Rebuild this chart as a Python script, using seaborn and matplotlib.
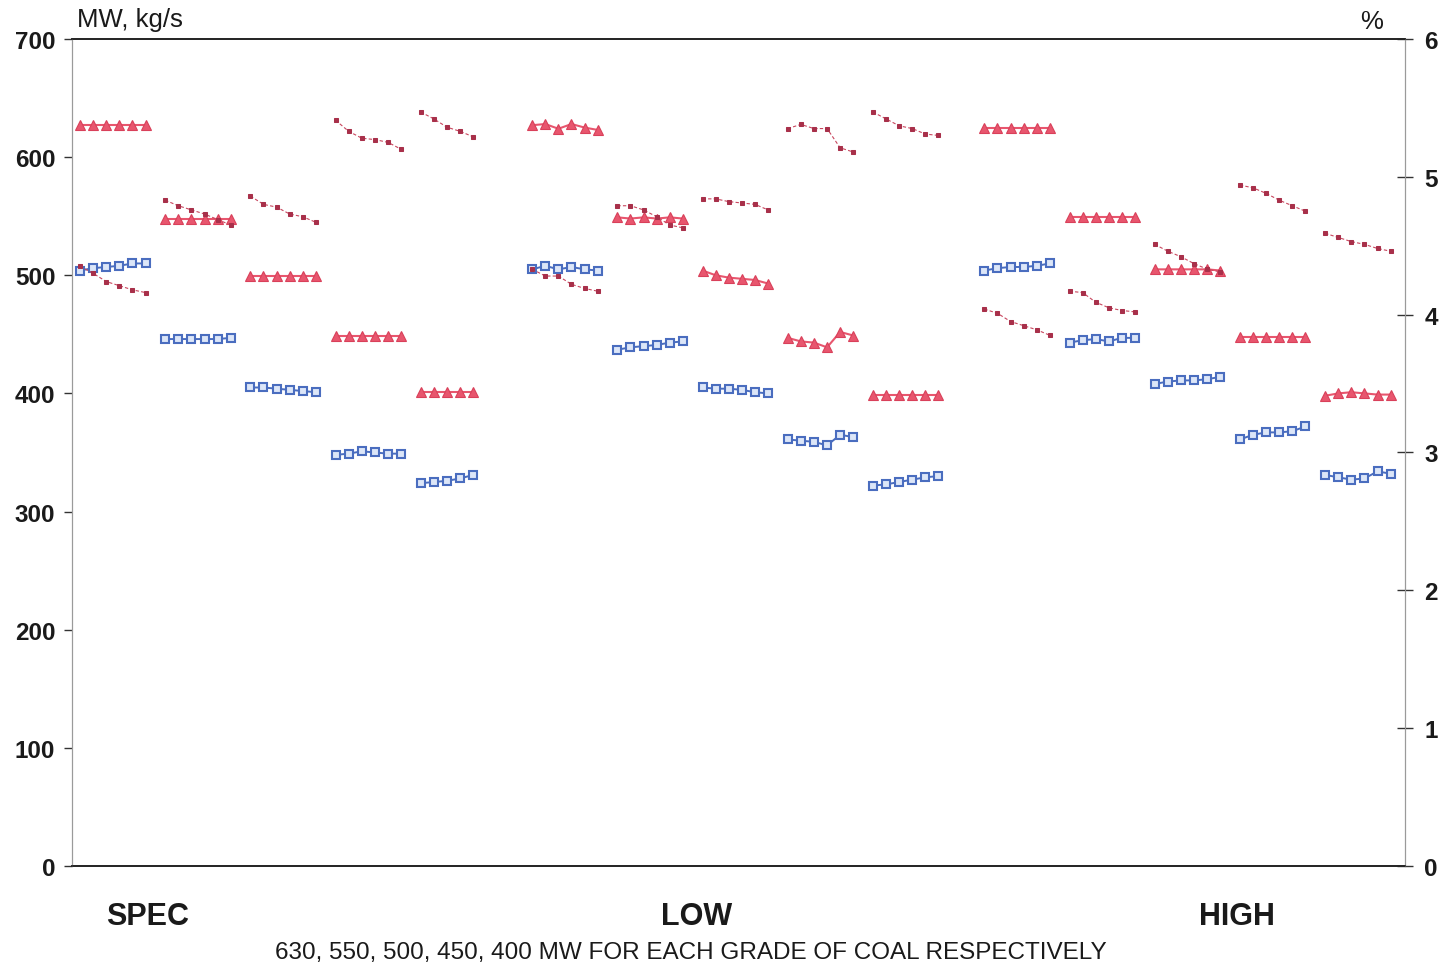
import numpy as np
import pandas as pd
import matplotlib
matplotlib.use("Agg")
import matplotlib.pyplot as plt
import seaborn as sns

# Coal grades and unit loads
grades = ["SPEC", "LOW", "HIGH"]
loads = [630, 550, 500, 450, 400]

# Gross output, MW (red triangles)
mw = [
    [627, 627, 627, 627, 627, 627],
    [548, 548, 548, 548, 548, 548],
    [499, 499, 499, 499, 499, 499],
    [449, 449, 449, 449, 449, 449],
    [401, 401, 401, 401, 401],
    [627, 628, 624, 628, 625, 623],
    [549, 548, 549, 548, 549, 548],
    [504, 500, 498, 497, 496, 493],
    [447, 444, 443, 439, 452, 449],
    [399, 399, 399, 399, 399, 399],
    [625, 625, 625, 625, 625, 625],
    [549, 549, 549, 549, 549, 549],
    [505, 505, 505, 505, 505, 504],
    [448, 448, 448, 448, 448, 448],
    [398, 400, 401, 400, 399, 399],
]

# Coal / steam flow, kg/s (blue squares)
kgs = [
    [504, 506, 507, 508, 510, 510],
    [446, 446, 446, 446, 446, 447],
    [405, 405, 404, 403, 402, 401],
    [348, 349, 351, 350, 349, 349],
    [324, 325, 326, 328, 331],
    [505, 508, 505, 507, 505, 504],
    [437, 439, 440, 441, 443, 444],
    [405, 404, 404, 403, 401, 400],
    [361, 360, 359, 356, 365, 363],
    [322, 323, 325, 327, 329, 330],
    [504, 506, 507, 507, 508, 510],
    [443, 445, 446, 444, 447, 447],
    [408, 410, 411, 411, 412, 414],
    [361, 365, 367, 367, 368, 372],
    [331, 329, 327, 328, 334, 332],
]

# Percentage on right axis (dashed line)
pct = [
    [4.35, 4.30, 4.24, 4.21, 4.18, 4.16],
    [4.83, 4.79, 4.76, 4.73, 4.69, 4.65],
    [4.86, 4.80, 4.78, 4.73, 4.71, 4.67],
    [5.41, 5.33, 5.28, 5.27, 5.25, 5.20],
    [5.47, 5.42, 5.36, 5.33, 5.29],
    [4.33, 4.28, 4.28, 4.22, 4.19, 4.17],
    [4.79, 4.79, 4.76, 4.71, 4.65, 4.63],
    [4.84, 4.84, 4.82, 4.81, 4.80, 4.76],
    [5.35, 5.38, 5.35, 5.35, 5.21, 5.18],
    [5.47, 5.42, 5.37, 5.35, 5.31, 5.30],
    [4.04, 4.01, 3.95, 3.92, 3.89, 3.85],
    [4.17, 4.16, 4.09, 4.05, 4.03, 4.02],
    [4.51, 4.46, 4.42, 4.37, 4.33, 4.31],
    [4.94, 4.92, 4.88, 4.83, 4.79, 4.75],
    [4.59, 4.56, 4.53, 4.51, 4.48, 4.46],
]

left_ticks = [0, 100, 200, 300, 400, 500, 600, 700]
right_ticks = [0, 1, 2, 3, 4, 5, 6]
caption = "630, 550, 500, 450, 400 MW FOR EACH GRADE OF COAL RESPECTIVELY"

# Horizontal layout: one step per reading, fixed pitch between load groups,
# extra gap between coal grades
GROUP_PITCH = 6.5
GRADE_GAP = 2.0

rows = []
for g in range(len(mw)):
    gi, li = divmod(g, len(loads))
    start = gi * (len(loads) * GROUP_PITCH + GRADE_GAP) + li * GROUP_PITCH
    for i in range(len(mw[g])):
        rows.append(dict(group=g, grade=grades[gi], load=loads[li],
                         x=start + i, mw=mw[g][i], kgs=kgs[g][i], pct=pct[g][i]))
df = pd.DataFrame(rows)

sns.set_style("white")
plt.rcParams["font.family"] = ["Liberation Sans", "DejaVu Sans"]

fig = plt.figure(figsize=(14.43, 9.70), dpi=100)
ax = fig.add_axes([0.0499, 0.1062, 0.9238, 0.8526])

red = "#E8566E"
blue = "#4A6DBF"
dash_red = "#C8465E"

sns.lineplot(data=df, x="x", y="mw", units="group", estimator=None, ax=ax,
             color=red, lw=1.5, marker="^", markersize=6.5,
             markerfacecolor=red, markeredgecolor="#D9405A", markeredgewidth=0.8,
             legend=False, zorder=3)
sns.lineplot(data=df, x="x", y="kgs", units="group", estimator=None, ax=ax,
             color=blue, lw=1.4, marker="s", markersize=5.5,
             markerfacecolor="#DCE6F8", markeredgecolor=blue, markeredgewidth=1.5,
             legend=False, zorder=3)

ax2 = ax.twinx()
sns.lineplot(data=df, x="x", y="pct", units="group", estimator=None, ax=ax2,
             color=dash_red, lw=0.8, linestyle=(0, (3, 2)), marker="s", markersize=2.8,
             markerfacecolor="#A8304A", markeredgecolor="#A8304A",
             legend=False, zorder=3)

last_x = df["x"].max()
ax.set_xlim(-0.61, last_x + 1.1)
ax2.set_xlim(-0.61, last_x + 1.1)
ax.set_ylim(0, 700)
ax2.set_ylim(0, 6)

ax.set_yticks(left_ticks)
ax.set_yticklabels([str(t) for t in left_ticks], fontsize=17.5, fontweight="bold", color="#1a1a1a")
ax2.set_yticks(right_ticks)
ax2.set_yticklabels([str(t) for t in right_ticks], fontsize=17.5, fontweight="bold", color="#1a1a1a")
ax.set_xticks([])
ax.set_xlabel("")
ax.set_ylabel("")
ax2.set_ylabel("")

ax.tick_params(axis="y", direction="out", length=6, width=1.0, color="#333333", pad=6, left=True)
ax2.tick_params(axis="y", direction="inout", length=12, width=1.0, color="#333333", pad=8, right=True)

for a in (ax, ax2):
    a.spines["top"].set_visible(True)
    a.spines["top"].set_color("#222222")
    a.spines["top"].set_linewidth(1.2)
    a.spines["bottom"].set_color("#222222")
    a.spines["bottom"].set_linewidth(1.2)
    a.spines["left"].set_color("#9a9a9a")
    a.spines["left"].set_linewidth(0.8)
    a.spines["right"].set_color("#9a9a9a")
    a.spines["right"].set_linewidth(0.8)

fig.text(77 / 1443, 1 - 20 / 970, "MW, kg/s", fontsize=18.5, ha="left", va="center", color="#1a1a1a")
fig.text(1372 / 1443, 1 - 22 / 970, "%", fontsize=18.5, ha="center", va="center", color="#1a1a1a")

for xpix, label in [(148, "SPEC"), (697, "LOW"), (1237, "HIGH")]:
    fig.text(xpix / 1443, 1 - 917 / 970, label, fontsize=22, fontweight="bold",
             ha="center", va="center", color="#1a1a1a")
fig.text(691 / 1443, 1 - 953 / 970, caption, fontsize=17.5, ha="center", va="center", color="#1a1a1a")

fig.savefig("out.png", dpi=100, facecolor="white")
